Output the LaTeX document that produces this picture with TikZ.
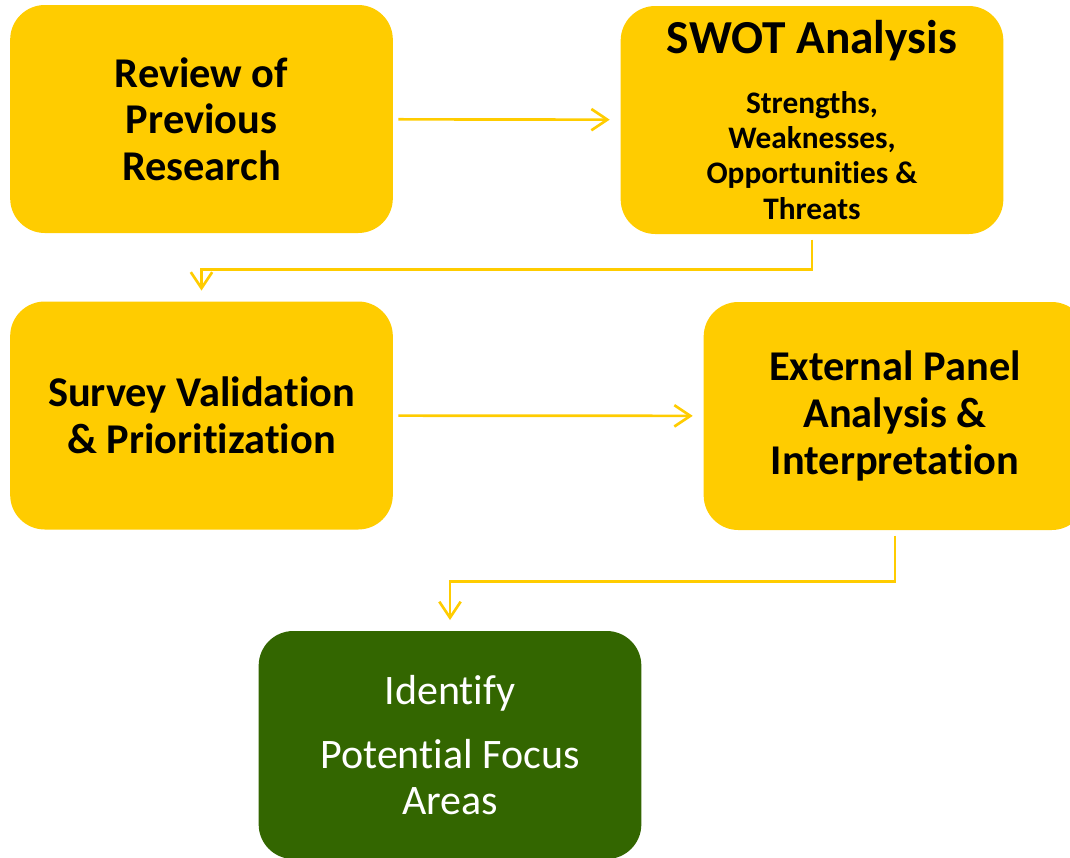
\documentclass[tikz,border=0pt]{standalone}
\usepackage{fontspec}
\setmainfont{Carlito}[Ligatures={NoCommon,NoContextual},RawFeature={-liga;-clig;-dlig}]
\usetikzlibrary{arrows.meta}

\definecolor{boxyellow}{HTML}{FFCC00}
\definecolor{boxgreen}{HTML}{336600}

\begin{document}
\begin{tikzpicture}[x=0.75pt,y=0.75pt,
        stagebox/.style={fill=boxyellow,rounded corners=26pt,minimum width=287pt,
            minimum height=171pt,align=center,inner sep=0pt,
            font=\bfseries\fontsize{31.8}{35}\selectfont},
        flow/.style={boxyellow,line width=2pt,shorten <=4pt,shorten >=8pt,
            -{Straight Barb[length=12pt,width=16pt]}}]
    \path[use as bounding box] (0,0) rectangle (1070,-857);
    \clip (0,0) rectangle (1070,-857);

    % stages
    \node[stagebox] (review) at (201.5,-119) {Review of\\Previous\\Research};
    \node[stagebox,font=\bfseries\fontsize{23.5}{26.5}\selectfont] (swot) at (812,-120)
        {\fontsize{35.5}{40}\selectfont SWOT Analysis\\[18pt]
        Strengths,\\Weaknesses,\\Opportunities \&\\Threats};
    \node[stagebox] (survey) at (201.5,-415.5) {Survey Validation\\\& Prioritization};
    \node[stagebox] (panel) at (895,-416) {External Panel\\Analysis \&\\Interpretation};
    \node[stagebox,fill=boxgreen,text=white,font=\fontsize{31.5}{34.5}\selectfont]
        (focus) at (450,-745) {Identify\\[14pt]Potential Focus\\Areas};

    % connectors
    \draw[flow] (review) -- (swot);
    \draw[flow] (swot.south) -- ++(0,-35) -| (survey.north);
    \draw[flow] (survey) -- (panel);
    \draw[flow] (panel.south) -- ++(0,-51) -| (focus.north);
\end{tikzpicture}
\end{document}
